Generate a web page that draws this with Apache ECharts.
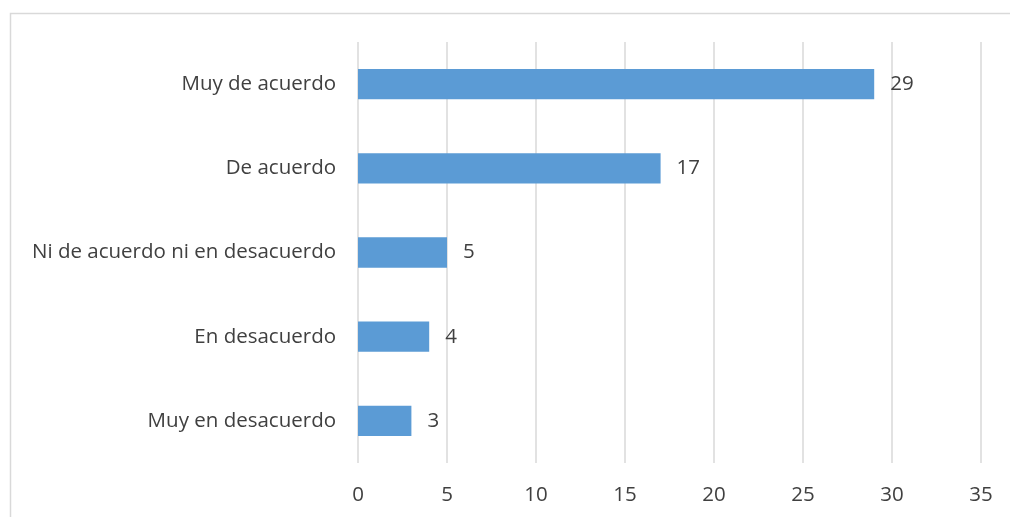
<!DOCTYPE html>
<html>
<head>
<meta charset="utf-8">
<style>
  html, body { margin: 0; padding: 0; background: #fff; }
  #chart { width: 1010px; height: 517px; }
</style>
<script src="https://cdn.jsdelivr.net/npm/echarts@6/dist/echarts.min.js"></script>
</head>
<body>
<div id="chart"></div>
<script>
// Response categories, listed bottom to top
const categories = [
  'Muy en desacuerdo',
  'En desacuerdo',
  'Ni de acuerdo ni en desacuerdo',
  'De acuerdo',
  'Muy de acuerdo'
];
// Number of responses per category
const counts = [3, 4, 5, 17, 29];

const chart = echarts.init(document.getElementById('chart'));
const textColor = '#404040';
const fontFamily = '"Open Sans", "Noto Sans", sans-serif';

chart.setOption({
  animation: false,
  backgroundColor: '#ffffff',
  graphic: [{
    type: 'rect',
    shape: { x: 10.5, y: 13.5, width: 1010, height: 520 },
    style: { fill: 'none', stroke: '#d9d9d9', lineWidth: 1.5 },
    silent: true
  }],
  grid: { left: 358, right: 29, top: 42, bottom: 54, containLabel: false },
  xAxis: {
    type: 'value',
    min: 0,
    max: 35,
    interval: 5,
    axisLine: { show: false },
    axisTick: { show: false },
    splitLine: { show: true, lineStyle: { color: '#d9d9d9', width: 1.5 } },
    axisLabel: { color: textColor, fontSize: 20.5, fontFamily: fontFamily, margin: 22 }
  },
  yAxis: {
    type: 'category',
    data: categories,
    axisLine: { show: false },
    axisTick: { show: false },
    axisLabel: { color: textColor, fontSize: 20.5, fontFamily: fontFamily, margin: 22 }
  },
  series: [{
    type: 'bar',
    data: counts,
    barCategoryGap: '64%',
    itemStyle: { color: '#5b9bd5' },
    label: {
      show: true,
      position: 'right',
      distance: 16,
      color: textColor,
      fontSize: 20.5,
      fontFamily: fontFamily
    }
  }]
});
</script>
</body>
</html>
